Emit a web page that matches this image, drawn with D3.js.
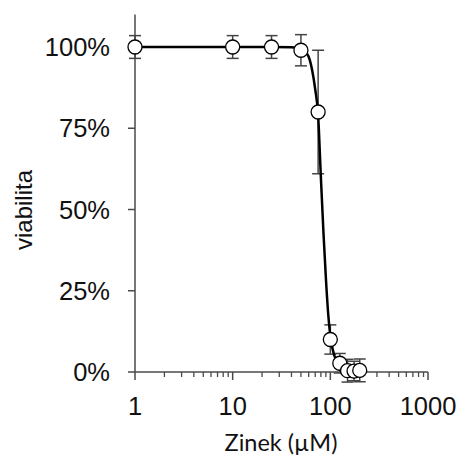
<!DOCTYPE html>
<html lang="cs">
<head>
<meta charset="utf-8">
<title>Viabilita vs Zinek</title>
<script src="https://cdnjs.cloudflare.com/ajax/libs/d3/7.8.5/d3.min.js"></script>
<style>
  body { margin: 0; background: #fff; }
  text { fill: #111; }
</style>
</head>
<body>
<svg id="chart" width="463" height="458"></svg>
<script>
// measured points (concentration in uM, viability in %, error in %)
var conc = [1, 10, 25, 50, 75, 100, 125, 150, 175, 200];
var viab = [100, 100, 100, 99, 80, 10, 2.7, 0.4, 0.3, 0.5];
var err  = [3.5, 3.5, 3.5, 4.8, 19, 4.5, 3, 3.5, 3, 3.5];

// fitted curve
var fitX = [1, 10, 25, 40, 50, 55, 60, 65, 70, 75, 80, 85, 90, 95, 100, 110, 125, 150, 175, 200];
var fitY = [100, 100, 100, 99.9, 99.3, 98.5, 97, 93, 87, 79, 60, 43, 29, 18, 11, 5, 2.2, 0.8, 0.4, 0.2];

var yTicks = [0, 25, 50, 75, 100];
var xTicks = [1, 10, 100, 1000];

var svg = d3.select("#chart");
svg.append("rect").attr("width", 463).attr("height", 458).attr("fill", "#fff");

var x = d3.scaleLog().domain([1, 1000]).range([135, 428]);
var y = d3.scaleLinear().domain([0, 110]).range([372, 14.5]);

var axisCol = "#4a4a4a";

// y axis
svg.append("line")
  .attr("x1", x(1)).attr("x2", x(1))
  .attr("y1", y(110)).attr("y2", y(0))
  .attr("stroke", axisCol).attr("stroke-width", 1.5);
svg.selectAll(".ytick").data(yTicks).enter().append("line")
  .attr("x1", x(1) - 7).attr("x2", x(1))
  .attr("y1", function(d){ return y(d); }).attr("y2", function(d){ return y(d); })
  .attr("stroke", axisCol).attr("stroke-width", 1.5);
svg.selectAll(".ylab").data(yTicks).enter().append("text")
  .attr("x", 110).attr("y", function(d){ return y(d); })
  .attr("dy", "0.36em")
  .attr("text-anchor", "end")
  .attr("font-family", "Liberation Sans, Arial, sans-serif")
  .attr("font-size", "25.5px")
  .text(function(d){ return d + "%"; });

// x axis
svg.append("line")
  .attr("x1", x(1)).attr("x2", x(1000))
  .attr("y1", y(0)).attr("y2", y(0))
  .attr("stroke", axisCol).attr("stroke-width", 1.5);
var minor = [];
[1, 10, 100].forEach(function(d){
  for (var k = 2; k <= 9; k++) minor.push(d * k);
});
svg.selectAll(".xminor").data(minor).enter().append("line")
  .attr("x1", function(d){ return x(d); }).attr("x2", function(d){ return x(d); })
  .attr("y1", y(0)).attr("y2", y(0) + 5)
  .attr("stroke", axisCol).attr("stroke-width", 1.3);
svg.selectAll(".xmajor").data(xTicks).enter().append("line")
  .attr("x1", function(d){ return x(d); }).attr("x2", function(d){ return x(d); })
  .attr("y1", y(0)).attr("y2", y(0) + 8)
  .attr("stroke", axisCol).attr("stroke-width", 1.5);
svg.selectAll(".xlab").data(xTicks).enter().append("text")
  .attr("x", function(d){ return x(d); }).attr("y", 415)
  .attr("text-anchor", "middle")
  .attr("font-family", "Liberation Sans, Arial, sans-serif")
  .attr("font-size", "25.5px")
  .text(function(d){ return d; });

// axis titles
svg.append("text")
  .attr("transform", "translate(32,210) rotate(-90)")
  .attr("text-anchor", "middle")
  .attr("font-family", "Liberation Sans, Arial, sans-serif")
  .attr("font-size", "24px")
  .text("viabilita");
svg.append("text")
  .attr("x", 281).attr("y", 451)
  .attr("text-anchor", "middle")
  .attr("font-family", "Lato, sans-serif")
  .attr("font-size", "23.5px")
  .text("Zinek (\u00b5M)");

// error bars
var pts = conc.map(function(c, i){ return {c: c, v: viab[i], e: err[i]}; });
var eb = svg.append("g").attr("stroke", "#444").attr("stroke-width", 1.5);
pts.forEach(function(d){
  var cx = x(d.c);
  eb.append("line").attr("x1", cx).attr("x2", cx).attr("y1", y(d.v + d.e)).attr("y2", y(d.v - d.e));
  eb.append("line").attr("x1", cx - 6).attr("x2", cx + 6).attr("y1", y(d.v + d.e)).attr("y2", y(d.v + d.e));
  eb.append("line").attr("x1", cx - 6).attr("x2", cx + 6).attr("y1", y(d.v - d.e)).attr("y2", y(d.v - d.e));
});

// fitted curve
var fit = fitX.map(function(c, i){ return [c, fitY[i]]; });
svg.append("path")
  .datum(fit)
  .attr("fill", "none")
  .attr("stroke", "#000")
  .attr("stroke-width", 2.5)
  .attr("d", d3.line()
    .x(function(d){ return x(d[0]); })
    .y(function(d){ return y(d[1]); })
    .curve(d3.curveMonotoneX));

// markers
svg.selectAll(".pt").data(pts).enter().append("circle")
  .attr("cx", function(d){ return x(d.c); })
  .attr("cy", function(d){ return y(d.v); })
  .attr("r", 7)
  .attr("fill", "#fff")
  .attr("stroke", "#000")
  .attr("stroke-width", 1.3);
</script>
</body>
</html>
